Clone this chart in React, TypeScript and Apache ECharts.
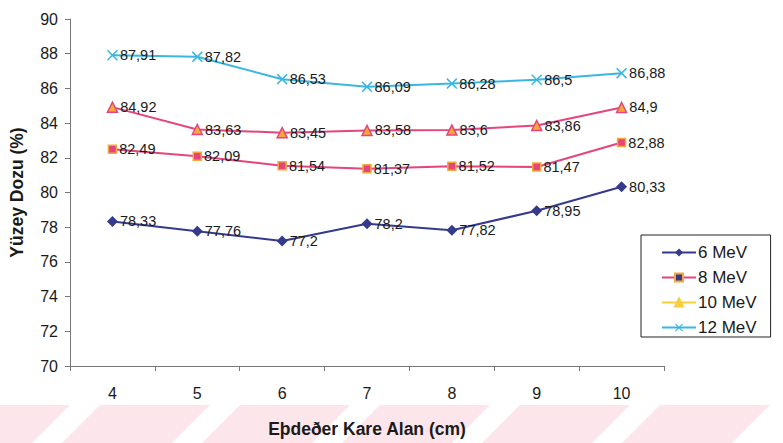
import React, { useEffect, useRef } from "react";
import * as echarts from "echarts";

const categories = ["4", "5", "6", "7", "8", "9", "10"];
const mev6 = [78.33, 77.76, 77.2, 78.2, 77.82, 78.95, 80.33];
const mev8 = [82.49, 82.09, 81.54, 81.37, 81.52, 81.47, 82.88];
const mev10 = [84.92, 83.63, 83.45, 83.58, 83.6, 83.86, 84.9];
const mev12 = [87.91, 87.82, 86.53, 86.09, 86.28, 86.5, 86.88];
const seriesNames = ["6 MeV", "8 MeV", "10 MeV", "12 MeV"];
const stripeStarts = [-40, 100, 240, 380, 520, 660];

const NAVY = "#353a8c";
const PINK = "#e4457c";
const ORANGE = "#f5a83a";
const YELLOW = "#f6cf3c";
const CYAN = "#3ab6e0";
const FONT = "Liberation Sans, Arial, sans-serif";

const xSymbol =
  "path://M1,0 L5,4 L9,0 L10,1 L6,5 L10,9 L9,10 L5,6 L1,10 L0,9 L4,5 L0,1 Z";

const fmt = (p: any) => String(p.value).replace(".", ",");

const labelCfg = {
  show: true,
  position: "right" as const,
  distance: 2,
  formatter: fmt,
  fontSize: 14.5,
  color: "#1a1a1a",
  fontFamily: FONT,
};

export default function App() {
  const ref = useRef<HTMLDivElement>(null);
  useEffect(() => {
    if (!ref.current) return;
    const chart = echarts.init(ref.current, null, { renderer: "svg" });
    const stripes = stripeStarts.map((s) => ({
      type: "polygon",
      z: -10,
      silent: true,
      shape: {
        points: [
          [s, 405],
          [s + 110, 405],
          [s + 72, 443],
          [s - 38, 443],
        ],
      },
      style: { fill: "#fce6eb" },
    }));
    chart.setOption({
      animation: false,
      backgroundColor: "#ffffff",
      textStyle: { fontFamily: FONT },
      graphic: stripes,
      grid: { left: 67, top: 19, right: 119, bottom: 74, containLabel: false },
      legend: {
        orient: "vertical",
        left: 641,
        top: 235,
        width: 137,
        padding: [9, 14, 1, 20],
        itemGap: 8,
        itemWidth: 34,
        itemHeight: 10,
        backgroundColor: "#ffffff",
        borderColor: "#222",
        borderWidth: 1,
        borderRadius: 0,
        textStyle: { fontSize: 17, color: "#1a1a1a", fontFamily: FONT, padding: [0, 0, 0, -3] },
        data: [
          { name: seriesNames[0] },
          { name: seriesNames[1], itemStyle: { color: NAVY, borderColor: ORANGE } },
          {
            name: seriesNames[2],
            itemStyle: { color: YELLOW, borderColor: YELLOW },
            lineStyle: { color: YELLOW },
          },
          { name: seriesNames[3] },
        ],
      },
      xAxis: {
        type: "category",
        data: categories,
        boundaryGap: true,
        axisLine: { lineStyle: { color: "#777", width: 1 } },
        axisTick: { show: true, length: 5, lineStyle: { color: "#777" } },
        axisLabel: { fontSize: 16, color: "#1a1a1a", margin: 19, fontFamily: FONT },
        name: "Eþdeðer Kare Alan (cm)",
        nameLocation: "middle",
        nameGap: 54,
        nameTextStyle: { fontSize: 17.5, fontWeight: "bold", color: "#1a1a1a", fontFamily: FONT },
        splitLine: { show: false },
      },
      yAxis: {
        type: "value",
        min: 70,
        max: 90,
        interval: 2,
        axisLine: { show: true, lineStyle: { color: "#777", width: 1 } },
        axisTick: { show: true, length: 5, lineStyle: { color: "#777" } },
        axisLabel: { fontSize: 16, color: "#1a1a1a", margin: 12, fontFamily: FONT },
        splitLine: { show: false },
        name: "Yüzey Dozu (%)",
        nameLocation: "middle",
        nameGap: 44,
        nameRotate: 90,
        nameTextStyle: { fontSize: 17.5, fontWeight: "bold", color: "#1a1a1a", fontFamily: FONT },
      },
      series: [
        {
          name: seriesNames[0],
          type: "line",
          data: mev6,
          symbol: "diamond",
          symbolSize: 11,
          lineStyle: { color: NAVY, width: 2 },
          itemStyle: { color: NAVY },
          label: labelCfg,
        },
        {
          name: seriesNames[1],
          type: "line",
          data: mev8,
          symbol: "rect",
          symbolSize: 8,
          lineStyle: { color: PINK, width: 2 },
          itemStyle: { color: PINK, borderColor: ORANGE, borderWidth: 1.5 },
          label: labelCfg,
        },
        {
          name: seriesNames[2],
          type: "line",
          data: mev10,
          symbol: "triangle",
          symbolSize: 10,
          lineStyle: { color: PINK, width: 2 },
          itemStyle: { color: ORANGE, borderColor: PINK, borderWidth: 1.5 },
          label: labelCfg,
        },
        {
          name: seriesNames[3],
          type: "line",
          data: mev12,
          symbol: xSymbol,
          symbolSize: 11,
          lineStyle: { color: CYAN, width: 2 },
          itemStyle: { color: CYAN },
          label: labelCfg,
        },
      ],
    });
    return () => chart.dispose();
  }, []);
  return (
    <div
      ref={ref}
      style={{ position: "absolute", left: 0, top: 0, width: 783, height: 443 }}
    />
  );
}
